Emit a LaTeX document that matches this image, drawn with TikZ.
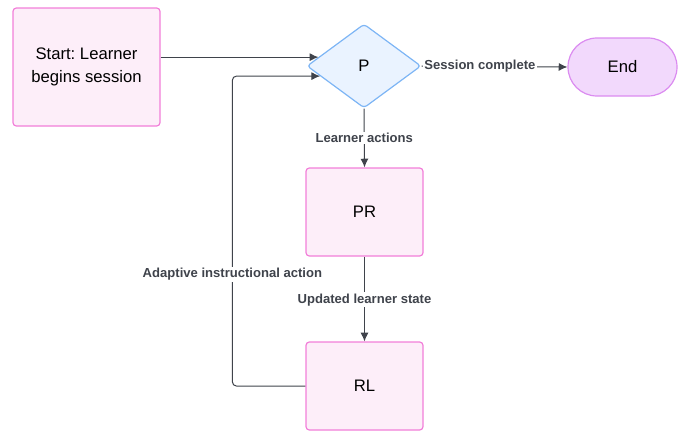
\documentclass[tikz,border=0pt]{standalone}
\usepackage{fontspec}
\setmainfont{Liberation Sans}
\frenchspacing
\usetikzlibrary{shapes.geometric,arrows.meta,calc}
\definecolor{pinkfill}{HTML}{FDEEF9}
\definecolor{pinkline}{HTML}{F27FD9}
\definecolor{bluefill}{HTML}{EAF3FF}
\definecolor{blueline}{HTML}{7DB5F5}
\definecolor{endfill}{HTML}{F2D9FC}
\definecolor{endline}{HTML}{DB8CF0}
\definecolor{edgecol}{HTML}{3F434B}
\tikzset{
  procbox/.style={draw=pinkline, fill=pinkfill, line width=0.9pt, rounded corners=2.5pt, inner sep=0pt, align=center, font=\fontsize{12.5}{17.5}\selectfont},
  decide/.style={shape=diamond, draw=blueline, fill=bluefill, line width=0.9pt, rounded corners=2.5pt, inner sep=0pt, minimum width=85.5pt, minimum height=63pt, font=\fontsize{12.5}{14}\selectfont},
  endbox/.style={draw=endline, fill=endfill, line width=0.9pt, rounded corners=21.7pt, inner sep=0pt, minimum width=81.75pt, minimum height=43.5pt, font=\fontsize{12.5}{14}\selectfont},
  arr/.style={draw=edgecol, line width=0.75pt, -{Latex[length=6.5pt,width=6pt]}},
  lbl/.style={fill=white, inner sep=1pt, text=edgecol, font=\bfseries\fontsize{9.8}{11}\selectfont}
}
\begin{document}
\begin{tikzpicture}[x=0.75pt,y=-0.75pt]
\path[use as bounding box] (0,0) rectangle (678,432);
\node[procbox, minimum width=110.25pt, minimum height=88.5pt] (S) at (86.5,67) {Start: Learner\\begins session};
\node[decide] (P) at (364,66) {P};
\node[endbox] (E) at (622.5,67) {End};
\node[procbox, minimum width=87.75pt, minimum height=66pt] (PR) at (364.5,212) {PR};
\node[procbox, minimum width=87.75pt, minimum height=66pt] (RL) at (364.5,386) {RL};

\draw[arr] (S.east |- P.169) -- (P.169);
\draw[arr] (P.east) -- node[lbl, pos=0.40] {Session complete} (E.west);
\draw[arr] (P.south) -- node[lbl] {Learner actions} (PR.north);
\draw[arr] (PR.south) -- node[lbl, pos=0.51] {Updated learner state} (RL.north);
\draw[arr, rounded corners=3pt] (RL.west) -- ++(-73,0) coordinate (c1) -- (c1 |- P.193) node[lbl, pos=0.36] {Adaptive instructional action} -- (P.193);
\end{tikzpicture}
\end{document}
